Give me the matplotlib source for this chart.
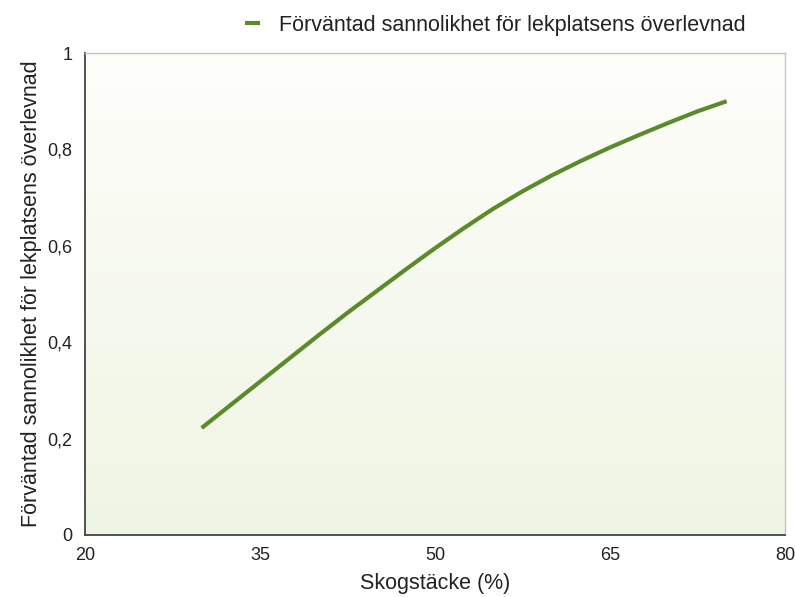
import numpy as np
import matplotlib
matplotlib.use("Agg")
import matplotlib.pyplot as plt
from matplotlib.colors import LinearSegmentedColormap
from matplotlib.ticker import FuncFormatter

# values
skog = [30, 32.5, 35, 37.5, 40, 42.5, 45, 47.5, 50, 52.5,
        55, 57.5, 60, 62.5, 65, 67.5, 70, 72.5, 75]
sannolikhet = [0.222, 0.270, 0.318, 0.366, 0.414, 0.461, 0.506, 0.551, 0.595, 0.637,
               0.677, 0.713, 0.746, 0.776, 0.804, 0.830, 0.855, 0.879, 0.900]
x_ticks = [20, 35, 50, 65, 80]
y_ticks = [0, 0.2, 0.4, 0.6, 0.8, 1]

plt.rcParams['font.family'] = ['Liberation Sans', 'DejaVu Sans']

fig = plt.figure(figsize=(7.95, 5.97), dpi=100)
ax = fig.add_axes([0.1069, 0.1039, 0.8805, 0.8073])

# soft white (top) to green (bottom) background
cmap = LinearSegmentedColormap.from_list('bg', ['#fefefb', '#eff5e3'])
grad = np.linspace(0, 1, 256).reshape(-1, 1)
ax.imshow(grad, cmap=cmap, aspect='auto', extent=[0, 1, 0, 1],
          transform=ax.transAxes, zorder=0)

ax.plot(skog, sannolikhet, color='#5a8b2b', lw=3, solid_capstyle='butt',
        solid_joinstyle='round',
        label='Förväntad sannolikhet för lekplatsens överlevnad', zorder=3)

ax.set_xlim(20, 80)
ax.set_ylim(0, 1)
ax.set_xticks(x_ticks)
ax.set_yticks(y_ticks)
ax.yaxis.set_major_formatter(FuncFormatter(lambda v, p: ('%g' % v).replace('.', ',')))
ax.tick_params(length=0, labelsize=13, colors='#222222')
ax.tick_params(axis='y', pad=9)
ax.tick_params(axis='x', pad=9)

for s in ['left', 'bottom']:
    ax.spines[s].set_color('#444444')
    ax.spines[s].set_linewidth(1.3)
for s in ['top', 'right']:
    ax.spines[s].set_color('#c4c4c4')
    ax.spines[s].set_linewidth(1.0)

ax.set_xlabel('Skogstäcke (%)', fontsize=15.5, color='#222222', labelpad=6)
ax.set_ylabel('Förväntad sannolikhet för lekplatsens överlevnad', fontsize=15.5,
              color='#222222', labelpad=4)

leg = ax.legend(loc='lower center', bbox_to_anchor=(0.586, 1.0), frameon=False,
                fontsize=15.5, handlelength=0.7, handletextpad=0.9,
                borderaxespad=0.4)
for t in leg.get_texts():
    t.set_color('#222222')

fig.savefig('out.png', dpi=100)
